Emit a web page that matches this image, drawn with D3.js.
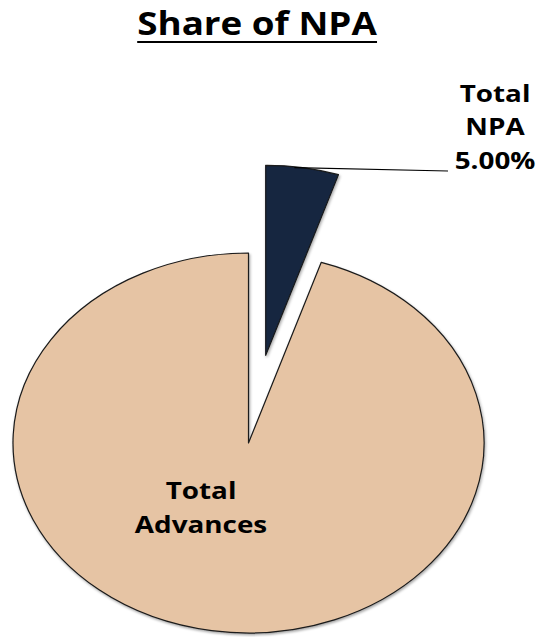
<!DOCTYPE html>
<html><head><meta charset="utf-8">
<script src="https://cdn.jsdelivr.net/npm/d3@7"></script>
<style>body{margin:0;background:#fff}svg{display:block}</style>
</head><body>
<svg id="c" width="541" height="637"></svg>
<script>
const title = "Share of NPA";
const categories = ["Total Advances", "Total NPA"];
const values = [95, 5];
const labelLines = [["Total", "Advances"], ["Total", "NPA", "5.00%"]];
const colors = ["#E6C4A4", "#16263F"];

const W = 541, H = 637;
const svg = d3.select("#c");
const font = "'Open Sans', sans-serif";
const sx = 1.16;

const defs = svg.append("defs");
const f = defs.append("filter").attr("id","sh").attr("x","-10%").attr("y","-10%").attr("width","120%").attr("height","120%");
f.append("feDropShadow").attr("dx",1).attr("dy",2).attr("stdDeviation",1.5).attr("flood-color","#000").attr("flood-opacity",0.35);

// Title
const tg = svg.append("g").attr("transform", `translate(257,35) scale(1.15,1)`);
const tt = tg.append("text").attr("text-anchor","middle").attr("font-family",font)
  .attr("font-weight",700).attr("font-size",32).attr("fill","#000").text(title);
const tb = tt.node().getBBox();
tg.append("line").attr("x1",tb.x).attr("x2",tb.x+tb.width).attr("y1",7).attr("y2",7)
  .attr("stroke","#000").attr("stroke-width",2);

// Pie
const cx = 248.5, cy = 443, rx = 235.5, ry = 190;
const pie = d3.pie().sort(null).startAngle(0).endAngle(2*Math.PI)(values.slice().reverse());
const arcs = pie.map((d,i)=>({...d, idx: values.length-1-i}));
const arc = d3.arc().innerRadius(0).outerRadius(rx);
const explode = [0, 110];

const pg = svg.append("g");
arcs.forEach(d => {
  const mid = (d.startAngle + d.endAngle)/2;
  const e = explode[d.idx];
  const ox = Math.sin(mid)*e, oy = -Math.cos(mid)*e*(ry/rx);
  pg.append("path")
    .attr("transform", `translate(${cx+ox},${cy+oy}) scale(1,${ry/rx})`)
    .attr("d", arc(d))
    .attr("fill", colors[d.idx])
    .attr("stroke", "#1a1a1a").attr("stroke-width", 1.2)
    .attr("vector-effect","non-scaling-stroke")
    .attr("stroke-linejoin","round")
    .attr("filter","url(#sh)");
  d.ox = ox; d.oy = oy; d.mid = mid;
});

// NPA leader line
const npa = arcs.find(d=>d.idx===1);
const lx = cx + npa.ox + Math.sin(npa.mid)*rx*0.78;
const ly = cy + npa.oy - Math.cos(npa.mid)*ry;
svg.append("path").attr("d", `M${lx},${ly}L448,171`).attr("stroke","#000").attr("stroke-width",1.2).attr("fill","none");

// Labels
function label(lines, x, y0, dy){
  const g = svg.append("g").attr("transform", `translate(${x},${y0}) scale(${sx},1)`);
  lines.forEach((t,i)=>{
    g.append("text").attr("x",0).attr("y",i*dy).attr("text-anchor","middle")
      .attr("font-family",font).attr("font-weight",700).attr("font-size",24).attr("fill","#000").text(t);
  });
}
label(labelLines[0], 201, 499, 34);
label(labelLines[1], 495, 102, 33.5);
</script>
</body></html>
